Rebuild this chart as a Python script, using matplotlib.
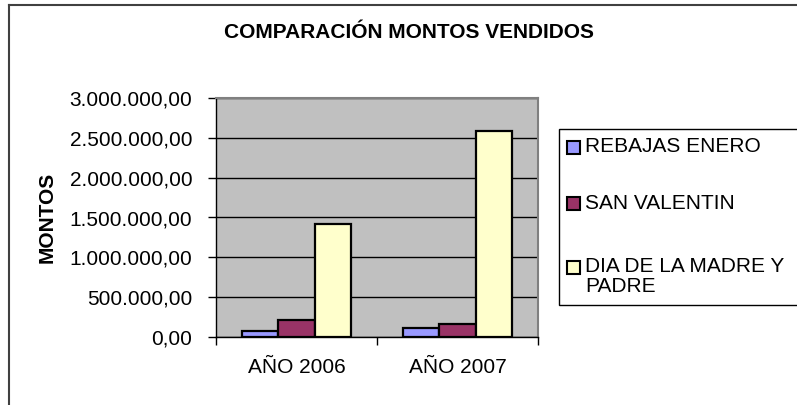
import numpy as np
import matplotlib.pyplot as plt
from matplotlib.lines import Line2D
from matplotlib.patches import Rectangle
from matplotlib.ticker import FuncFormatter, FixedLocator

plt.rcParams['font.family'] = ['Liberation Sans', 'DejaVu Sans']

# DATA
anios = ['AÑO 2006', 'AÑO 2007']
series = ['REBAJAS ENERO', 'SAN VALENTIN', 'DIA DE LA MADRE Y\nPADRE']
rebajas_enero = [79000, 109000]
san_valentin = [213000, 163000]
dia_madre_padre = [1418000, 2590000]
colores = ['#9999FF', '#993366', '#FFFFCC']

W, H = 797, 405
fig = plt.figure(figsize=(W / 100, H / 100), dpi=100)
ax = fig.add_axes([216 / W, 1 - 337 / H, 322 / W, 239 / H])
ax.set_facecolor('#C0C0C0')

x = np.arange(len(anios))
w = 0.224
for i, (vals, col, lab) in enumerate(zip([rebajas_enero, san_valentin, dia_madre_padre], colores, series)):
    ax.bar(x + (i - 1) * w, vals, w, color=col, edgecolor='black', linewidth=1.6, label=lab, zorder=3)

ax.set_xlim(-0.5, 1.5)
ax.set_ylim(0, 3000000)
ax.yaxis.set_major_locator(FixedLocator(np.arange(0, 3000001, 500000)))
fmt = lambda v, p: f"{v:,.2f}".replace(',', 'X').replace('.', ',').replace('X', '.')
ax.yaxis.set_major_formatter(FuncFormatter(fmt))
ax.grid(axis='y', color='black', linewidth=1, zorder=1)

ax.set_xticks(x)
ax.set_xticklabels(anios)
ax.set_xticks([-0.5, 0.5, 1.5], minor=True)
ax.tick_params(axis='x', which='major', length=0, labelsize=15, pad=15)
ax.tick_params(axis='x', which='minor', length=6, width=1, direction='out')
ax.tick_params(axis='y', length=6, width=1, direction='out', labelsize=15, pad=11)

for s in ['top', 'right']:
    ax.spines[s].set_color('#808080')
    ax.spines[s].set_linewidth(1.5)
for s in ['left', 'bottom']:
    ax.spines[s].set_color('black')
    ax.spines[s].set_linewidth(1)

ax.set_ylabel('MONTOS', fontsize=15, fontweight='bold')
ax.yaxis.set_label_coords(-0.494, 0.5)

fig.text(409 / W, 1 - 32 / H, 'COMPARACIÓN MONTOS VENDIDOS', ha='center', va='center',
         fontsize=15, fontweight='bold')

# legend drawn by hand (Excel style: box cut by the right edge)
def px(xp, yp):
    return xp / W, 1 - yp / H

fig.add_artist(Rectangle(px(559, 305), 260 / W, 176 / H, transform=fig.transFigure,
                         facecolor='white', edgecolor='black', linewidth=1, clip_on=False))
for col, lab, yc in zip(colores, series, [147.5, 204, 267]):
    fig.add_artist(Rectangle(px(567, yc + 6.5), 13 / W, 13 / H, transform=fig.transFigure,
                             facecolor=col, edgecolor='black', linewidth=1.5))
    fig.text(585 / W, 1 - (yc - 10.5) / H, lab, ha='left', va='top', fontsize=15, linespacing=1.12)

# figure border
fig.add_artist(Line2D([9 / W, 9 / W], [0, 1 - 5 / H], color='#404040', linewidth=1.5))
fig.add_artist(Line2D([9 / W, 1], [1 - 5 / H, 1 - 5 / H], color='#404040', linewidth=1.5))

fig.savefig('out.png', dpi=100)
